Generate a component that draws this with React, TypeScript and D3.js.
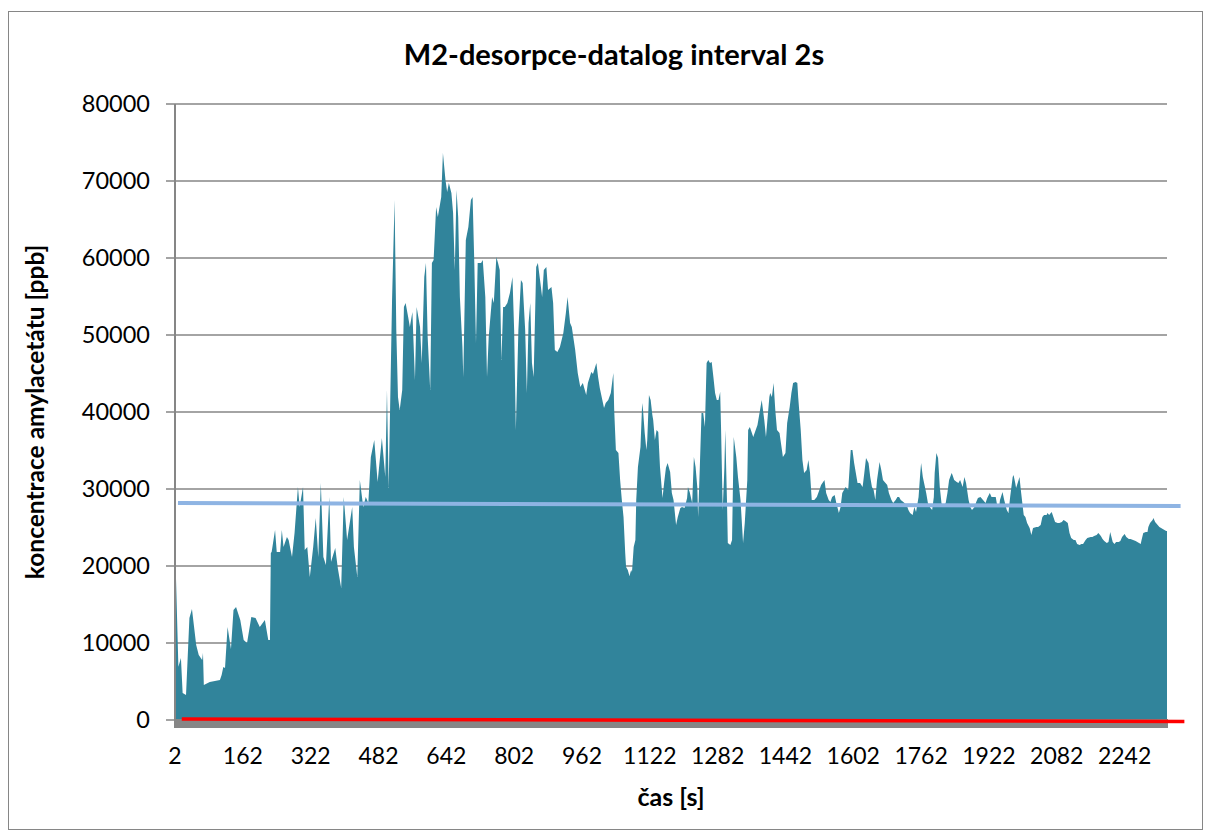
import * as d3 from 'd3';
import React from 'react';

// time [s], concentration [ppb]
const samples: [number, number][] = [
  [2, 17500], [4, 19100], [10, 6900], [16, 8050], [20, 3500], [28, 3250], [36, 13250], [42, 14400],
  [52, 9750], [58, 8440], [66, 7790], [68, 8700], [70, 4550], [84, 4930], [108, 5200], [112, 5840],
  [116, 6880], [120, 6750], [126, 12080], [134, 9220], [140, 14290], [146, 14680], [156, 12990], [164, 10390],
  [172, 10000], [182, 13380], [192, 13250], [202, 12080], [214, 12990], [222, 10390], [226, 10390], [228, 21690],
  [230, 21820], [238, 24680], [242, 21820], [250, 21820], [254, 24680], [258, 22470], [266, 23770], [270, 23380],
  [278, 21170], [284, 24290], [292, 30260], [296, 27660], [304, 30260], [308, 22080], [314, 22470], [320, 18570],
  [328, 22470], [334, 26230], [340, 21170], [346, 30780], [352, 21170], [358, 20130], [366, 28960], [370, 20520],
  [380, 22340], [386, 19740], [394, 17140], [400, 28960], [408, 23380], [420, 27660], [424, 22470], [432, 18570],
  [438, 31170], [446, 27660], [452, 28960], [458, 28180], [464, 34160], [472, 36360], [480, 30910], [490, 36620],
  [498, 31560], [502, 42860], [506, 30130], [514, 54550], [520, 67530], [524, 50650], [528, 41950], [532, 40260],
  [538, 42860], [542, 53640], [546, 54160], [552, 52340], [556, 51040], [562, 52990], [568, 44160], [572, 53640],
  [580, 51040], [584, 46360], [590, 57530], [594, 59350], [598, 49740], [604, 42860], [608, 59350], [612, 59740],
  [618, 66620], [622, 65320], [630, 67920], [634, 73630], [640, 70130], [644, 68570], [648, 69740], [654, 68440],
  [658, 65840], [662, 58440], [666, 68830], [670, 65320], [674, 54930], [680, 48440], [682, 44540], [688, 62340],
  [694, 64030], [700, 67530], [704, 67920], [708, 59350], [712, 48960], [716, 59350], [724, 59350], [728, 59740],
  [734, 54930], [738, 44540], [742, 49740], [750, 54930], [754, 54160], [760, 60130], [764, 59350], [768, 58440],
  [772, 46750], [776, 53640], [780, 53640], [786, 54160], [792, 55450], [798, 57530], [802, 50650], [806, 37660],
  [812, 50650], [818, 57140], [822, 56750], [828, 50650], [832, 42470], [836, 51560], [840, 54160], [844, 46360],
  [848, 44540], [854, 58830], [858, 59350], [864, 56750], [868, 54930], [872, 58440], [878, 58830], [882, 55840],
  [890, 56230], [894, 54160], [898, 48050], [904, 47790], [910, 48440], [918, 50260], [924, 52860], [928, 54930],
  [934, 51560], [938, 51040], [946, 48050], [952, 45070], [958, 43250], [964, 43770], [972, 42210], [976, 43770],
  [984, 45200], [988, 44940], [996, 46360], [1000, 44540], [1004, 43120], [1014, 40520], [1018, 41170], [1024, 41560],
  [1030, 42470], [1036, 45070], [1038, 40260], [1042, 35060], [1048, 34670], [1052, 31170], [1056, 28570], [1060, 26360],
  [1064, 21690], [1066, 19870], [1070, 19480], [1074, 18700], [1078, 19480], [1080, 19220], [1084, 22470], [1088, 23380],
  [1090, 28570], [1094, 32860], [1100, 35450], [1104, 41170], [1106, 40260], [1110, 37270], [1114, 35060], [1116, 36360],
  [1120, 42210], [1124, 41560], [1128, 39610], [1130, 38960], [1134, 36360], [1138, 37660], [1142, 37400], [1146, 32860],
  [1152, 28830], [1156, 30910], [1160, 32730], [1164, 33380], [1170, 32210], [1174, 29480], [1178, 28570], [1184, 25320],
  [1188, 26360], [1194, 27530], [1198, 27660], [1204, 27530], [1210, 28830], [1212, 30260], [1216, 29610], [1222, 28180],
  [1226, 34160], [1230, 32860], [1234, 30260], [1236, 26360], [1240, 32860], [1244, 39870], [1248, 39870], [1252, 38050],
  [1256, 46360], [1260, 46750], [1264, 46360], [1268, 46490], [1272, 44540], [1276, 42470], [1280, 41560], [1284, 41560],
  [1288, 42600], [1290, 38050], [1294, 27270], [1298, 32860], [1300, 37660], [1304, 28570], [1306, 22990], [1312, 22730],
  [1316, 23380], [1320, 36750], [1326, 34160], [1330, 31560], [1336, 28570], [1342, 22990], [1346, 25580], [1352, 31170],
  [1354, 37660], [1358, 38050], [1366, 36750], [1376, 38310], [1378, 38960], [1382, 40260], [1386, 41560], [1392, 38960],
  [1396, 36750], [1404, 41950], [1406, 42470], [1410, 41950], [1414, 43770], [1418, 40260], [1422, 37660], [1428, 37270],
  [1432, 35710], [1436, 34160], [1442, 34670], [1446, 38570], [1452, 40650], [1456, 42470], [1460, 43770], [1466, 43900],
  [1470, 43770], [1472, 41950], [1478, 37660], [1482, 33770], [1486, 32080], [1492, 32470], [1496, 33770], [1500, 32080],
  [1504, 28570], [1510, 28570], [1516, 28960], [1522, 29870], [1526, 30520], [1534, 31170], [1538, 29480], [1544, 28570],
  [1548, 28310], [1552, 28960], [1558, 29220], [1562, 28180], [1568, 26880], [1572, 27660], [1576, 29480], [1584, 30260],
  [1590, 29870], [1596, 35060], [1600, 35060], [1604, 33380], [1612, 30780], [1618, 30780], [1624, 30260], [1628, 32080],
  [1632, 34030], [1638, 33380], [1642, 31560], [1646, 30260], [1650, 29870], [1654, 28570], [1658, 31170], [1664, 33510],
  [1668, 32470], [1672, 31170], [1678, 30780], [1682, 30520], [1686, 29480], [1692, 28570], [1696, 28180], [1702, 28570],
  [1706, 28960], [1710, 28960], [1714, 28570], [1720, 28310], [1728, 27920], [1732, 27270], [1736, 26880], [1742, 26620],
  [1746, 27660], [1750, 27010], [1756, 28960], [1760, 32080], [1762, 33380], [1766, 31560], [1774, 29480], [1778, 28180],
  [1784, 27530], [1788, 27270], [1792, 28960], [1794, 32080], [1798, 34670], [1802, 34030], [1806, 30260], [1810, 28180],
  [1814, 27660], [1820, 28180], [1824, 29480], [1828, 31170], [1834, 32080], [1836, 31820], [1840, 31170], [1846, 30910],
  [1850, 30780], [1854, 31170], [1860, 30260], [1864, 31560], [1868, 30780], [1874, 28570], [1878, 27660], [1882, 27270],
  [1888, 27660], [1892, 28310], [1896, 28830], [1902, 28960], [1908, 28570], [1914, 28180], [1918, 28830], [1924, 29480],
  [1928, 28960], [1932, 28960], [1938, 28960], [1942, 27660], [1946, 27660], [1948, 28570], [1954, 29610], [1958, 28570],
  [1964, 27270], [1968, 26880], [1972, 28960], [1978, 31560], [1980, 31820], [1984, 30780], [1986, 30130], [1992, 31170],
  [1994, 31560], [1998, 29480], [2004, 26620], [2008, 26360], [2012, 25580], [2018, 24940], [2022, 24030], [2026, 24940],
  [2034, 25070], [2038, 25070], [2044, 25320], [2048, 26360], [2052, 26620], [2058, 26620], [2060, 26880], [2064, 26620],
  [2070, 27010], [2074, 26360], [2078, 25710], [2084, 25580], [2088, 25580], [2094, 25710], [2098, 25970], [2102, 25840],
  [2108, 25580], [2112, 24290], [2116, 23640], [2122, 23380], [2126, 23380], [2130, 22860], [2136, 22730], [2140, 22860],
  [2144, 22860], [2150, 23380], [2154, 23640], [2162, 23770], [2166, 23770], [2170, 23900], [2176, 24030], [2180, 24290],
  [2186, 23900], [2190, 23510], [2194, 23250], [2200, 22990], [2204, 23120], [2208, 24420], [2214, 23120], [2218, 22860],
  [2222, 23120], [2228, 23120], [2232, 23250], [2236, 23770], [2242, 24160], [2246, 23770], [2252, 23510], [2256, 23510],
  [2262, 23380], [2268, 23250], [2272, 23120], [2280, 22860], [2282, 23380], [2286, 24290], [2292, 24420], [2296, 24420],
  [2298, 25070], [2302, 25580], [2308, 25970], [2310, 26230], [2314, 25710], [2320, 25320], [2324, 25070], [2328, 24940],
  [2336, 24680], [2340, 24550], [2342, 24550],
];

// trendlines (start / end)
const meanLine: [number, number][] = [[9, 28180], [2374, 27790]];
const redLine: [number, number][] = [[18, 130], [2383, -200]];

const xTickLabels = [2, 162, 322, 482, 642, 802, 962, 1122, 1282, 1442, 1602, 1762, 1922, 2082, 2242];
const yTicks = [0, 10000, 20000, 30000, 40000, 50000, 60000, 70000, 80000];

const title = 'M2-desorpce-datalog interval 2s';
const xTitle = 'čas [s]';
const yTitle = 'koncentrace amylacetátu [ppb]';

const W = 1211;
const H = 838;
const plot = { left: 175, right: 1167, top: 104, bottom: 720 };
const font = 'Lato, "Open Sans", sans-serif';
const gridColor = '#868686';

export default function App() {
  const x = d3.scaleLinear()
    .domain(d3.extent(samples, d => d[0]) as [number, number])
    .range([plot.left, plot.right]);
  const y = d3.scaleLinear().domain([0, 80000]).range([plot.bottom, plot.top]);

  const area = d3.area<[number, number]>()
    .x(d => x(d[0]))
    .y0(y(0))
    .y1(d => y(d[1]));
  const line = d3.line<[number, number]>().x(d => x(d[0])).y(d => y(d[1]));

  return (
    <svg width={W} height={H} style={{ position: 'absolute', left: 0, top: 0, background: '#fff' }}
      fontFamily={font}>
      <rect x={8.5} y={11.5} width={1194} height={818} fill="#fff" stroke={gridColor} strokeWidth={1} />

      <text x={614} y={65} textAnchor="middle" fontSize={29} fontWeight="bold">{title}</text>

      {yTicks.map(t => (
        <g key={t}>
          <line x1={166} x2={plot.right} y1={y(t)} y2={y(t)} stroke={gridColor} strokeWidth={1.5} />
          <text x={150} y={y(t)} dy="0.35em" textAnchor="end" fontSize={23.5}>{t}</text>
        </g>
      ))}

      <path d={area(samples) ?? ''} fill="#31849b" />

      <line x1={plot.left} x2={plot.left} y1={plot.top} y2={plot.bottom} stroke={gridColor} strokeWidth={2} />
      <rect x={plot.left - 1} y={plot.bottom - 1} width={plot.right - plot.left + 2} height={9} fill={gridColor} />

      <path d={line(meanLine) ?? ''} fill="none" stroke="#8eb4e3" strokeWidth={4} />
      <path d={line(redLine) ?? ''} fill="none" stroke="#ff0000" strokeWidth={3.5} />

      {xTickLabels.map(t => (
        <text key={t} x={x(t)} y={764} textAnchor="middle" fontSize={23}>{t}</text>
      ))}

      <text x={(plot.left + plot.right) / 2} y={806} textAnchor="middle" fontSize={25} fontWeight="bold">{xTitle}</text>
      <text transform={`translate(44,${(plot.top + plot.bottom) / 2}) rotate(-90)`} textAnchor="middle"
        fontSize={24.5} fontWeight="bold">{yTitle}</text>
    </svg>
  );
}
